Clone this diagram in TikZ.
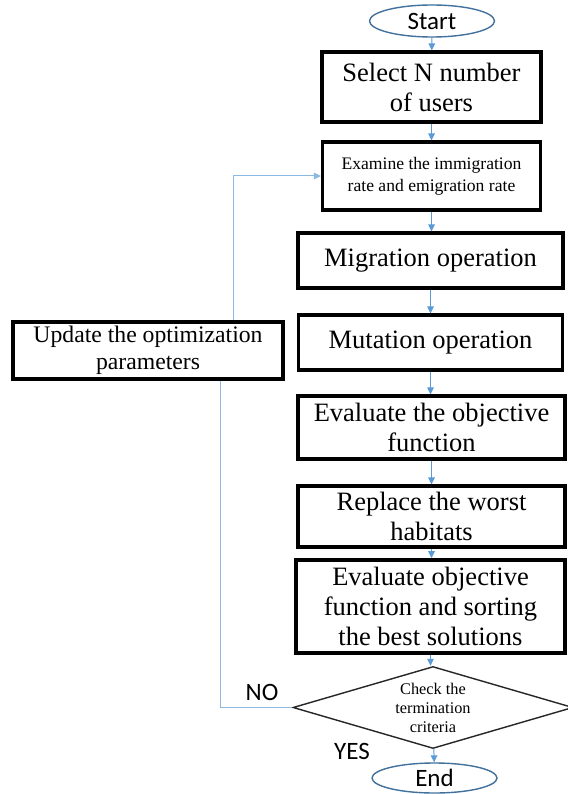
\documentclass[tikz,border=0pt]{standalone}
\usepackage{fontspec}
\setmainfont{Liberation Serif}
\newfontfamily\calibrifont{Carlito}
\usetikzlibrary{shapes.geometric,arrows.meta}
\definecolor{conncol}{HTML}{5B9BD5}
\definecolor{ellcol}{HTML}{41719C}
\tikzset{
  x=1pt,y=-1pt,
  procbox/.style={draw=black,line width=3.1pt,rectangle,inner sep=0pt,align=center,font=\fontsize{26.5}{30}\selectfont},
  term/.style={draw=ellcol,line width=1.4pt,ellipse,inner sep=0pt,font=\calibrifont\fontsize{25}{28}\selectfont},
  conn/.style={draw=conncol,line width=1pt,-{Triangle[length=7pt,width=6.5pt]}},
  plainconn/.style={draw=conncol!70,line width=1pt},
  lbl/.style={font=\calibrifont\fontsize{25}{28}\selectfont,inner sep=0pt}
}
\begin{document}
\begin{tikzpicture}
\useasboundingbox[fill=white] (0,0) rectangle (567,794);
\node[term,minimum width=125pt,minimum height=32pt] (start) at (432,21) {Start};
\node[procbox,minimum width=219pt,minimum height=70pt] (sel) at (431.5,87) {Select N number\\of users};
\node[procbox,minimum width=218pt,minimum height=68pt,font=\fontsize{17.6}{22}\selectfont] (exam) at (431.5,176) {Examine the immigration\\rate and emigration rate};
\node[procbox,minimum width=265pt,minimum height=55pt] (mig) at (430.5,260.5) {Migration operation};
\node[procbox,minimum width=264pt,minimum height=55pt] (mut) at (430.5,342.5) {Mutation operation};
\node[procbox,minimum width=267pt,minimum height=63pt] (eval) at (431.5,427.5) {Evaluate the objective\\function};
\node[procbox,minimum width=267pt,minimum height=61pt] (repl) at (431.5,516.5) {Replace the worst\\habitats};
\node[procbox,line width=3.6pt,minimum width=269pt,minimum height=93pt] (evtwo) at (430.5,606.5) {Evaluate objective\\function and sorting\\the best solutions};
\node[draw=black!85,line width=1.4pt,diamond,shape aspect=3.5,inner sep=0pt,minimum width=280pt,minimum height=82pt,align=center,font=\fontsize{16.3}{19}\selectfont] (dia) at (433,707.5) {Check the\\termination\\criteria};
\node[term,minimum width=125pt,minimum height=30pt] (end) at (434.5,778) {End};
\node[procbox,minimum width=270pt,minimum height=57pt,font=\fontsize{23.7}{27}\selectfont] (upd) at (148,350.5) {Update the optimization\\parameters};
\node[lbl] (no) at (262,692) {NO};
\node[lbl] (yes) at (352,751) {YES};
\draw[conn] (start) -- (sel);
\draw[conn] (sel.south) -- (sel.south |- exam.north);
\draw[conn] (exam.south) -- (exam.south |- mig.north);
\draw[conn] (mig) -- (mut);
\draw[conn] (mut.south) -- (mut.south |- eval.north);
\draw[conn] (eval.south) -- (eval.south |- repl.north);
\draw[conn] (repl.south) -- (repl.south |- evtwo.north);
\draw[conn] (evtwo.south) -- (evtwo.south |- dia.north);
\draw[conn] (dia) -- (end);
\draw[plainconn] (dia.west) -| ([xshift=72pt]upd.south);
\draw[conn,draw=conncol!70] ([xshift=85pt]upd.north) |- (exam.west);
\end{tikzpicture}
\end{document}
